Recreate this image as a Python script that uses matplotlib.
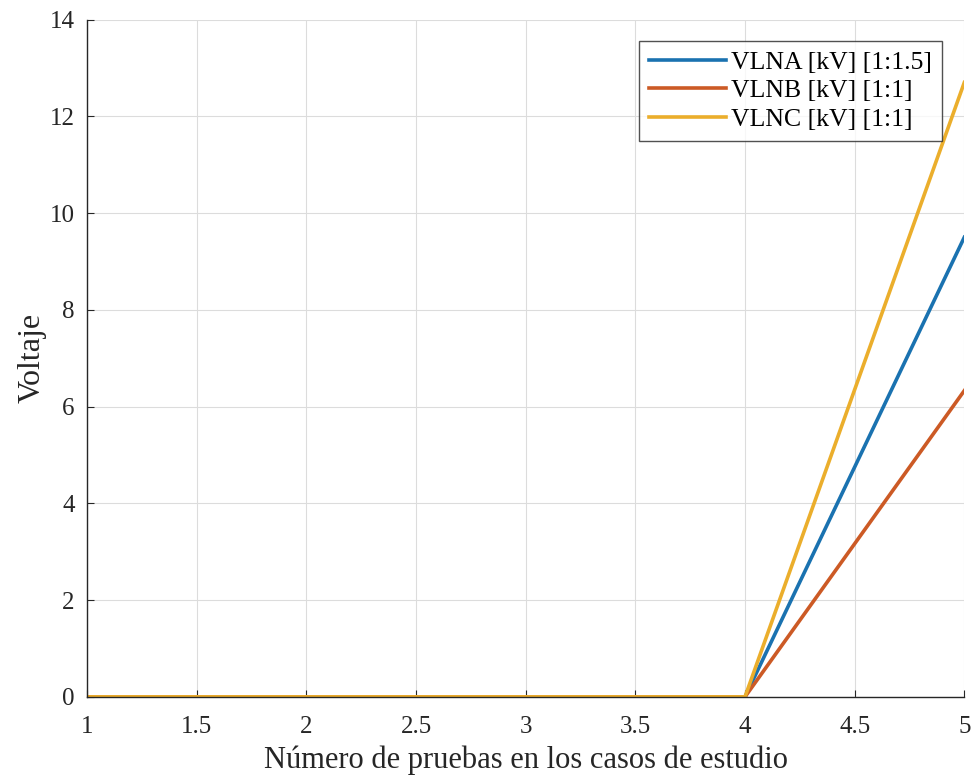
import matplotlib
matplotlib.use("Agg")
import matplotlib.pyplot as plt

plt.rcParams["font.family"] = ["Liberation Serif", "DejaVu Serif"]

# Test runs and line-to-neutral voltages per phase
pruebas = [1, 2, 3, 4, 5]
vlna = [0, 0, 0, 0, 9.5]
vlnb = [0, 0, 0, 0, 6.33]
vlnc = [0, 0, 0, 0, 12.7]
etiquetas = ["VLNA [kV] [1:1.5]", "VLNB [kV] [1:1]", "VLNC [kV] [1:1]"]
colores = ["#1A72B0", "#CC5A25", "#EBAE2C"]

fig = plt.figure(figsize=(9.78, 7.83), dpi=100)
ax = fig.add_axes([0.089, 0.110, 0.897, 0.865])

for serie, lab, col in zip([vlna, vlnb, vlnc], etiquetas, colores):
    ax.plot(pruebas, serie, color=col, lw=2.6, label=lab)

ax.set_xlim(1, 5)
ax.set_ylim(0, 14)
ax.set_xticks([1, 1.5, 2, 2.5, 3, 3.5, 4, 4.5, 5])
ax.set_xticklabels(["1", "1.5", "2", "2.5", "3", "3.5", "4", "4.5", "5"])
ax.set_yticks(range(0, 15, 2))
ax.grid(True, color="#dcdcdc", lw=0.8)
ax.set_axisbelow(True)
for s in ["top", "right"]:
    ax.spines[s].set_visible(False)
for s in ["left", "bottom"]:
    ax.spines[s].set_color("#262626")
    ax.spines[s].set_linewidth(1.0)
ax.tick_params(direction="in", length=5, labelsize=18, colors="#262626")
ax.tick_params(axis="x", pad=14)
ax.tick_params(axis="y", pad=9)

ax.set_xlabel("Número de pruebas en los casos de estudio", fontsize=22, color="#262626",
              labelpad=5)
ax.set_ylabel("Voltaje", fontsize=23, color="#262626", labelpad=2)

leg = ax.legend(loc="upper right", bbox_to_anchor=(0.975, 0.969), fontsize=18.5,
                frameon=True, fancybox=False, edgecolor="#262626",
                handlelength=3.0, handletextpad=0.2, borderpad=0.4,
                labelspacing=0.22, borderaxespad=0)
leg.get_frame().set_linewidth(1.0)

plt.savefig("out.png", dpi=100)
plt.close()
